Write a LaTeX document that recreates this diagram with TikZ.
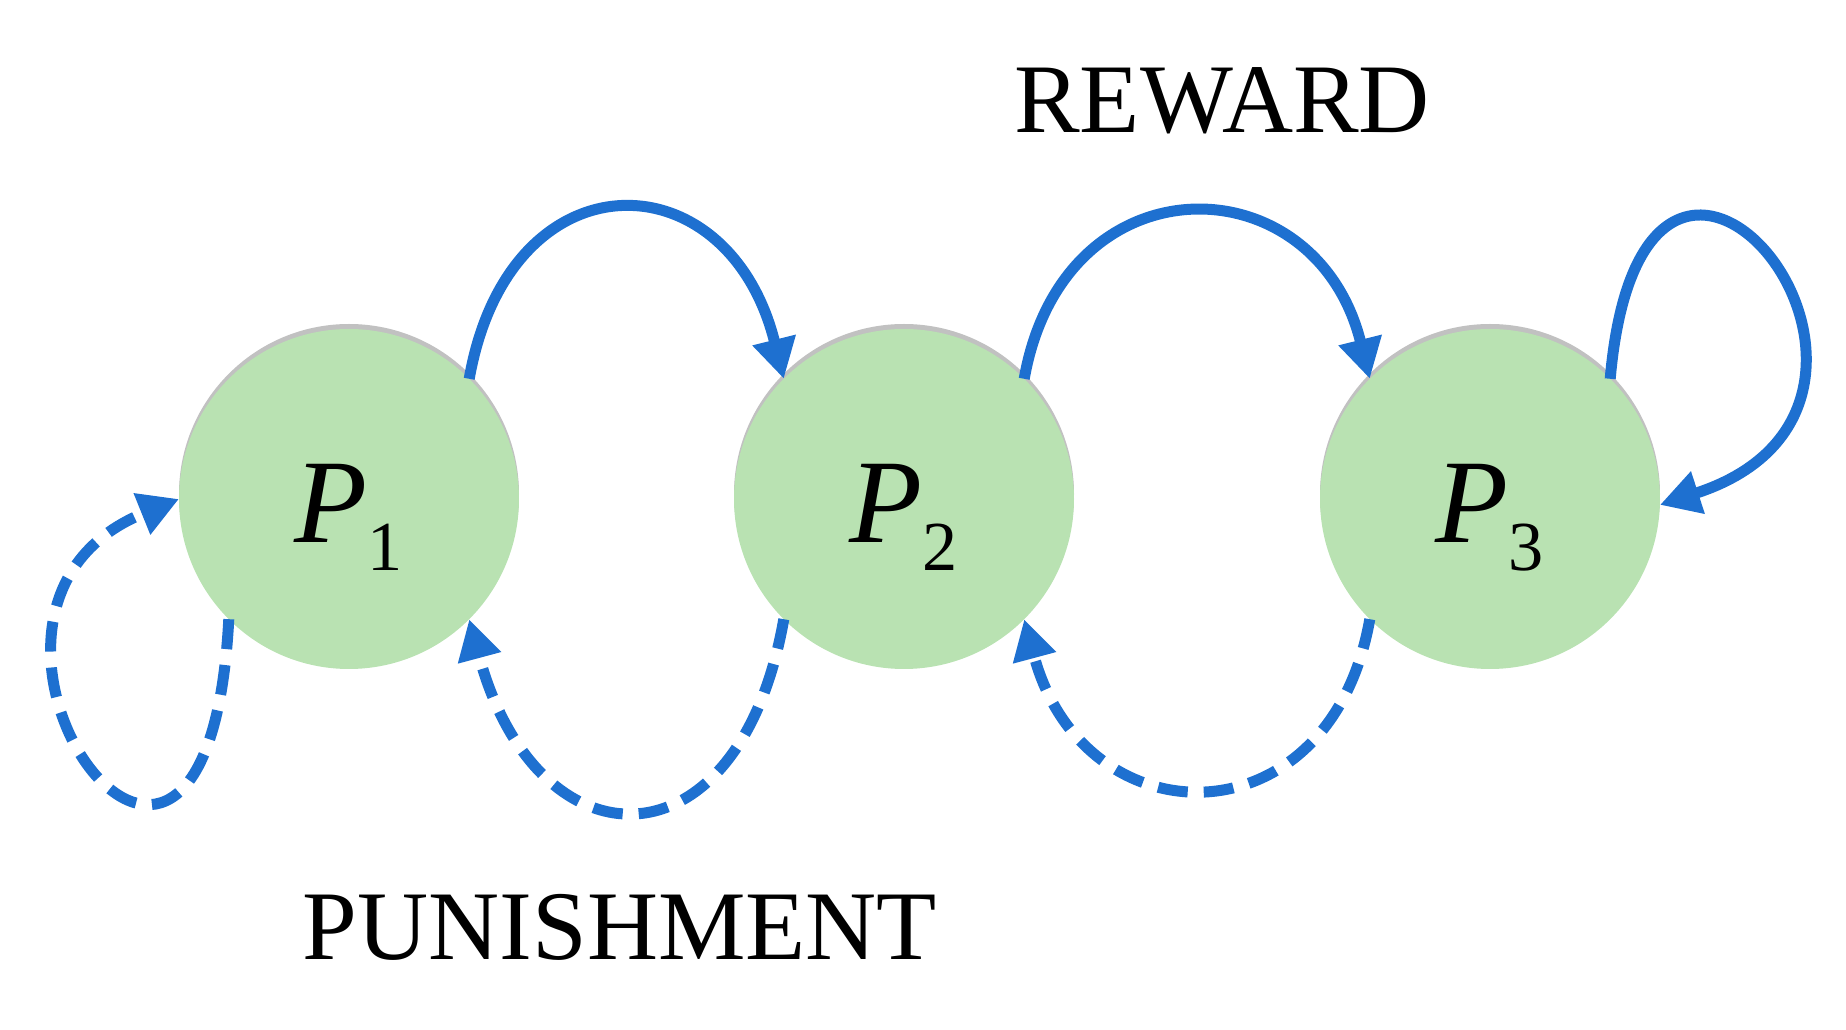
\documentclass[tikz,border=0pt]{standalone}
\usepackage{fontspec}
\setmainfont{Liberation Serif}
\usetikzlibrary{arrows.meta,shadows}
\definecolor{nodegreen}{RGB}{185,226,178}
\definecolor{arcblue}{RGB}{30,112,208}
\newcommand{\plabel}[1]{{\fontsize{34pt}{34pt}\selectfont\itshape P}\raisebox{-0.28cm}{\fontsize{20pt}{20pt}\selectfont #1}}
\begin{document}
\begin{tikzpicture}[line join=round,
	pnode/.style={circle,fill=nodegreen,minimum size=3.4cm,inner sep=0pt,outer sep=0pt,
		text height=1.0cm,text depth=0.12cm,
		drop shadow={shadow xshift=0cm,shadow yshift=0.05cm,opacity=0.35,fill=black!70}},
	solidarr/.style={draw=arcblue,line width=0.11cm,-{Triangle[length=0.4cm,width=0.42cm]}},
	dasharr/.style={solidarr,dash pattern=on 0.3cm off 0.16cm},
	bigtext/.style={font=\fontsize{28pt}{28pt}\selectfont,anchor=base}]
	\useasboundingbox (0,0) rectangle (18.46,10.30);
	\node[pnode] (p1) at (3.49,5.31) {\plabel{1}};
	\node[pnode] (p2) at (9.04,5.31) {\plabel{2}};
	\node[pnode] (p3) at (14.90,5.31) {\plabel{3}};
	\node[bigtext] (reward) at (12.22,8.97) {REWARD};
	\node[bigtext] (punish) at (6.20,0.70) {PUNISHMENT};
	% reward arcs
	\draw[solidarr] (p1.45) .. controls +(80:2.3) and +(104:2.3) .. (p2.135);
	\draw[solidarr] (p2.45) .. controls +(80:2.25) and +(104:2.25) .. (p3.135);
	\draw[solidarr] (p3.45) .. controls +(85:3.9) and +(18:3.3) .. (p3.-2);
	% punishment arcs
	\draw[dasharr] (p1.225) .. controls +(267:4.3) and +(202:3.0) .. (p1.180);
	\draw[dasharr] (p2.225) .. controls +(260:2.6) and +(285:2.6) .. (p1.315);
	\draw[dasharr] (p3.225) .. controls +(260:2.3) and +(285:2.3) .. (p2.315);
\end{tikzpicture}
\end{document}
